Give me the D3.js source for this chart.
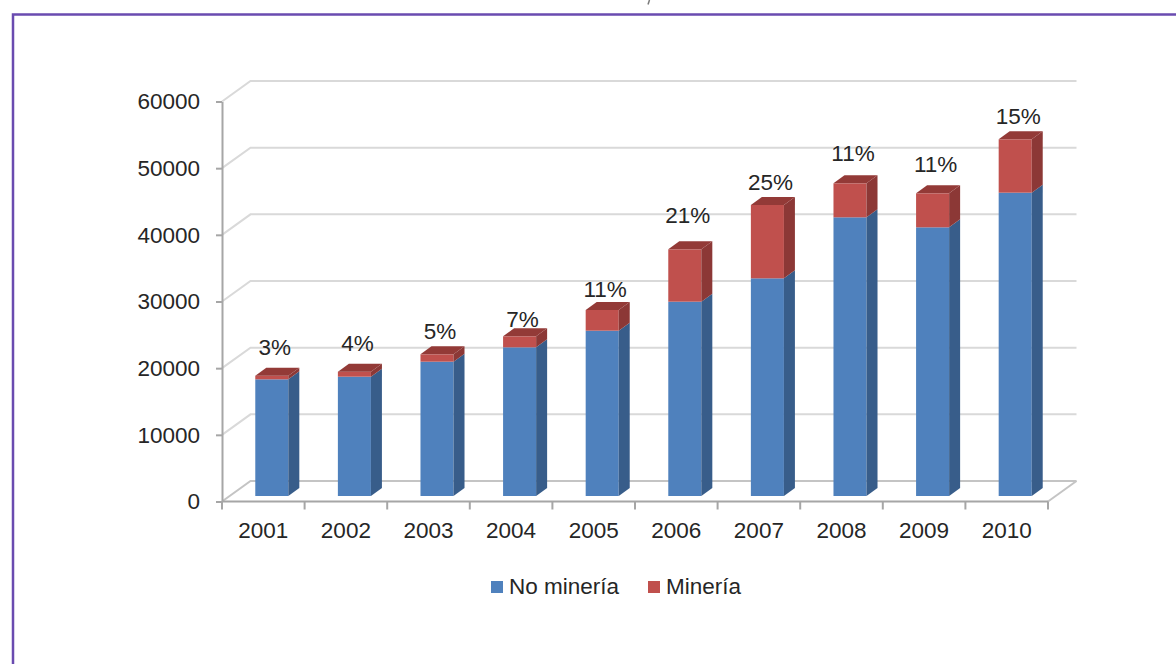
<!DOCTYPE html>
<html>
<head>
<meta charset="utf-8">
<script src="https://cdn.jsdelivr.net/npm/d3@7"></script>
<style>
  html, body { margin: 0; padding: 0; background: #fff; }
  svg { display: block; font-family: "Liberation Sans", Arial, sans-serif; }
</style>
</head>
<body>
<svg id="chart" width="1176" height="664"></svg>
<script>
// Annual totals split into non-mining and mining components
const years = ["2001", "2002", "2003", "2004", "2005", "2006", "2007", "2008", "2009", "2010"];
const noMineria = [17500, 17900, 20150, 22300, 24800, 29150, 32650, 41800, 40300, 45500];
const mineria   = [540, 750, 1100, 1650, 3100, 7850, 11000, 5100, 5100, 8000];
const yTicks = [0, 10000, 20000, 30000, 40000, 50000, 60000];
const seriesNames = ["No minería", "Minería"];

// Layout
const W = 1176, H = 664;
const left = 222, right = 1048;
const y0 = 501.5, yTop = 101.5;
const depth = { dx: 28.5, dy: -20.5 };    // back wall offset
const plane = { dx: 8.5, dy: -5.5 };      // plane of the bars' front faces
const barDepth = { dx: 11, dy: -8 };      // thickness of each bar
const labelLift = [29, 29, 23, 17.7, 21, 34, 23, 30, 29, 23];

const colors = {
  blue: "#4f81bd", blueSide: "#385d8a",
  red: "#c0504d", redSide: "#8c3836", redTop: "#933a37",
  axis: "#a6a6a6", grid: "#d9d9d9", floor: "#c4c4c4", text: "#262626"
};

const svg = d3.select("#chart");

// Frame
svg.append("path")
  .attr("d", `M13,${H + 5} V14.5 H${W + 5}`)
  .attr("fill", "none").attr("stroke", "#6a4bb0").attr("stroke-width", 2.5);
svg.append("path")
  .attr("d", "M649.5,0 L648,4.5")
  .attr("stroke", "#7a7a7a").attr("stroke-width", 1.5);

const y = d3.scaleLinear().domain([0, 60000]).range([y0, yTop]);
const xCat = d3.scaleBand().domain(years).range([left, right]).padding(0);
const xBar = d3.scaleBand().domain(years).range([left, right])
  .paddingInner(0.6).paddingOuter(0.3);

// Back wall gridlines with the side-wall diagonals
const grid = svg.append("g");
yTicks.forEach(v => {
  const yy = y(v);
  grid.append("path")
    .attr("d", `M${left},${yy} L${left + depth.dx},${yy + depth.dy} L${right + depth.dx},${yy + depth.dy}`)
    .attr("fill", "none")
    .attr("stroke", v === 0 ? colors.floor : colors.grid)
    .attr("stroke-width", 2);
});

// Floor outline
svg.append("path")
  .attr("d", `M${right},${y0} L${right + depth.dx},${y0 + depth.dy}`)
  .attr("fill", "none").attr("stroke", colors.floor).attr("stroke-width", 2);

// Bars
const stacked = years.map((yr, i) => ({
  year: yr,
  blue: noMineria[i],
  red: mineria[i],
  total: noMineria[i] + mineria[i]
}));

const bw = xBar.bandwidth();
const bars = svg.append("g");
stacked.forEach(d => {
  const fx = xBar(d.year) + plane.dx;
  const segs = [
    { v0: 0, v1: d.blue, front: colors.blue, side: colors.blueSide },
    { v0: d.blue, v1: d.total, front: colors.red, side: colors.redSide }
  ];
  segs.forEach(s => {
    const yb = y(s.v0) + plane.dy, yt = y(s.v1) + plane.dy;
    bars.append("rect")
      .attr("x", fx).attr("y", yt)
      .attr("width", bw).attr("height", yb - yt)
      .attr("fill", s.front);
    bars.append("path")
      .attr("d", `M${fx + bw},${yb} L${fx + bw + barDepth.dx},${yb + barDepth.dy} L${fx + bw + barDepth.dx},${yt + barDepth.dy} L${fx + bw},${yt} Z`)
      .attr("fill", s.side);
  });
  const yt = y(d.total) + plane.dy;
  bars.append("path")
    .attr("d", `M${fx},${yt} L${fx + barDepth.dx},${yt + barDepth.dy} L${fx + bw + barDepth.dx},${yt + barDepth.dy} L${fx + bw},${yt} Z`)
    .attr("fill", colors.redTop);
});

// Front floor edge and y axis
svg.append("line")
  .attr("x1", left).attr("x2", right).attr("y1", y0).attr("y2", y0)
  .attr("stroke", colors.axis).attr("stroke-width", 2);

const yAxis = svg.append("g")
  .attr("transform", `translate(${left},0)`)
  .call(d3.axisLeft(y).tickValues(yTicks).tickFormat(d3.format("d"))
    .tickSize(6).tickSizeOuter(0).tickPadding(16));
yAxis.select(".domain").attr("stroke", colors.axis).attr("stroke-width", 2);
yAxis.selectAll(".tick line").attr("stroke", colors.axis).attr("stroke-width", 2);
yAxis.selectAll(".tick text")
  .attr("fill", colors.text).style("font-size", "22.5px")
  .style("font-family", "'Liberation Sans', Arial, sans-serif");

// Category ticks and labels
const xAxis = svg.append("g");
d3.range(years.length + 1).forEach(i => {
  const xx = left + xCat.step() * i;
  xAxis.append("line")
    .attr("x1", xx).attr("x2", xx).attr("y1", y0).attr("y2", y0 + 8)
    .attr("stroke", colors.axis).attr("stroke-width", 2);
});
xAxis.selectAll("text.cat").data(years).join("text")
  .attr("class", "cat")
  .attr("x", d => xCat(d) + xCat.bandwidth() / 2)
  .attr("y", 538)
  .attr("text-anchor", "middle")
  .attr("fill", colors.text)
  .style("font-size", "22.5px")
  .text(d => d);

// Share of mining labels
const pct = d3.format(".0%");
svg.append("g").selectAll("text").data(stacked).join("text")
  .attr("x", d => xBar(d.year) + plane.dx + bw / 2 + 3)
  .attr("y", (d, i) => y(d.total) + plane.dy - labelLift[i])
  .attr("dy", "0.35em")
  .attr("text-anchor", "middle")
  .attr("fill", colors.text)
  .style("font-size", "22.5px")
  .text(d => pct(d.red / d.total));

// Legend
const legend = svg.append("g");
const legendItems = [
  { name: seriesNames[0], color: colors.blue, x: 491 },
  { name: seriesNames[1], color: colors.red, x: 648 }
];
legendItems.forEach(it => {
  legend.append("rect")
    .attr("x", it.x).attr("y", 581).attr("width", 12).attr("height", 12)
    .attr("fill", it.color);
  legend.append("text")
    .attr("x", it.x + 18).attr("y", 594)
    .attr("fill", colors.text)
    .style("font-size", "22.5px")
    .text(it.name);
});
</script>
</body>
</html>
